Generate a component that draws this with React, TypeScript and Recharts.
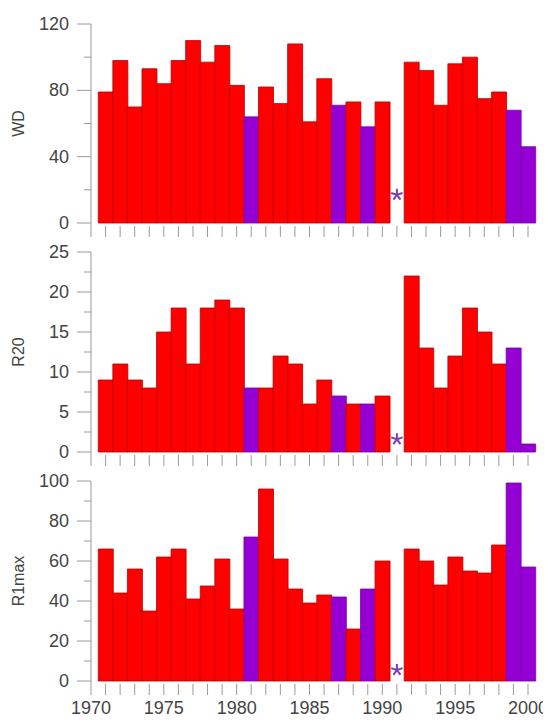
import { ComposedChart, Bar, Cell, Scatter, XAxis, YAxis } from "recharts";

const years = [
  1971, 1972, 1973, 1974, 1975, 1976, 1977, 1978, 1979, 1980, 1981, 1982, 1983,
  1984, 1985, 1986, 1987, 1988, 1989, 1990, 1991, 1992, 1993, 1994, 1995, 1996,
  1997, 1998, 1999, 2000,
];
const wd = [
  79, 98, 70, 93, 84, 98, 110, 97, 107, 83, 64, 82, 72, 108, 61, 87, 71, 73, 58,
  73, null, 97, 92, 71, 96, 100, 75, 79, 68, 46,
];
const r20 = [
  9, 11, 9, 8, 15, 18, 11, 18, 19, 18, 8, 8, 12, 11, 6, 9, 7, 6, 6, 7, null, 22,
  13, 8, 12, 18, 15, 11, 13, 1,
];
const r1max = [
  66, 44, 56, 35, 62, 66, 41, 47.5, 61, 36, 72, 96, 61, 46, 39, 43, 42, 26, 46,
  60, null, 66, 60, 48, 62, 55, 54, 68, 99, 57,
];
const purpleYears = [1981, 1987, 1989, 1999, 2000];
const missingYear = 1991;
const starValues = [17, 1.6, 5.5];

const xTicks = [
  1970, 1971, 1972, 1973, 1974, 1975, 1976, 1977, 1978, 1979, 1980, 1981, 1982,
  1983, 1984, 1985, 1986, 1987, 1988, 1989, 1990, 1991, 1992, 1993, 1994, 1995,
  1996, 1997, 1998, 1999, 2000,
];
const wdTicks = [0, 20, 40, 60, 80, 100, 120];
const r20Ticks = [0, 2.5, 5, 7.5, 10, 12.5, 15, 17.5, 20, 22.5, 25];
const r1maxTicks = [0, 10, 20, 30, 40, 50, 60, 70, 80, 90, 100];

const AXIS = "#9a9a9a";
const TEXT = "#444";
const FONT = "Liberation Sans, Arial, sans-serif";
const Y_AXIS_W = 83;
const CHART_W = 560;

function YearTick(props: any) {
  const { x, y, payload, labels } = props;
  const v = payload.value;
  return (
    <g>
      <line x1={x} x2={x} y1={v === 1970 ? y : y + 3} y2={y + 14} stroke={AXIS} />
      {labels && v % 5 === 0 && (
        <text
          x={x}
          y={y + 27}
          textAnchor="middle"
          dominantBaseline="central"
          fontSize={18}
          fontFamily={FONT}
          fill={TEXT}
        >
          {v}
        </text>
      )}
    </g>
  );
}

// y-axis tick: long tick + label for majors, short tick for minors
function ValueTick(props: any) {
  const { y, payload, major } = props;
  const x = Y_AXIS_W;
  const isMajor = payload.value % major === 0;
  return (
    <g>
      <line x1={x - (isMajor ? 14 : 7)} x2={x} y1={y} y2={y} stroke={AXIS} />
      {isMajor && (
        <text
          x={x - 22}
          y={y}
          textAnchor="end"
          dominantBaseline="central"
          fontSize={18}
          fontFamily={FONT}
          fill={TEXT}
        >
          {payload.value}
        </text>
      )}
    </g>
  );
}

function Asterisk(props: any) {
  const { cx, cy } = props;
  const r = 6;
  const arms = [0, 72, 144, 216, 288].map((a) => {
    const t = ((a - 90) * Math.PI) / 180;
    return (
      <line
        key={a}
        x1={cx}
        y1={cy}
        x2={cx + r * Math.cos(t)}
        y2={cy + r * Math.sin(t)}
        stroke="#7b3fb5"
        strokeWidth={2}
      />
    );
  });
  return <g>{arms}</g>;
}

type PanelProps = {
  title: string;
  values: (number | null)[];
  star: number;
  ticks: number[];
  major: number;
  height: number;
  top: number;
  axisHeight: number;
  yearLabels?: boolean;
};

function Panel({
  title,
  values,
  star,
  ticks,
  major,
  height,
  top,
  axisHeight,
  yearLabels,
}: PanelProps) {
  const data = years.map((year, i) => ({ year, value: values[i] }));
  return (
    <ComposedChart
      width={CHART_W}
      height={height}
      data={data}
      margin={{ top, right: CHART_W - 520, bottom: 0, left: 0 }}
      barCategoryGap={0}
      barGap={0}
    >
      <XAxis
        dataKey="year"
        type="number"
        domain={[1970, 2000]}
        ticks={xTicks}
        interval={0}
        axisLine={false}
        tickLine={false}
        tickSize={0}
        tickMargin={0}
        height={axisHeight}
        tick={<YearTick labels={yearLabels} />}
      />
      <YAxis
        type="number"
        domain={[0, ticks[ticks.length - 1]]}
        ticks={ticks}
        interval={0}
        width={Y_AXIS_W}
        axisLine={{ stroke: AXIS }}
        tickLine={false}
        tickSize={0}
        tickMargin={0}
        tick={<ValueTick major={major} />}
        label={{
          content: (p: any) => {
            const vb = p.viewBox || {};
            const cy = (vb.y || 0) + (vb.height || 0) / 2;
            return (
              <text
                x={10}
                y={cy}
                transform={`rotate(-90 10 ${cy})`}
                textAnchor="middle"
                dominantBaseline="central"
                fontSize={16}
                fontFamily={FONT}
                fill={TEXT}
              >
                {title}
              </text>
            );
          },
        }}
      />
      <Bar dataKey="value" isAnimationActive={false}>
        {data.map((d) => {
          const purple = purpleYears.includes(d.year);
          return (
            <Cell
              key={d.year}
              fill={purple ? "#9400d3" : "#ff0000"}
              stroke={purple ? "#7a00b0" : "#b80000"}
              strokeWidth={0.8}
            />
          );
        })}
      </Bar>
      <Scatter
        data={[{ year: missingYear, value: star }]}
        dataKey="value"
        isAnimationActive={false}
        shape={<Asterisk />}
      />
    </ComposedChart>
  );
}

export default function App() {
  return (
    <div style={{ width: CHART_W, background: "#fff" }}>
      <style>{"html,body{overflow:hidden}.recharts-wrapper,.recharts-surface{overflow:visible !important}"}</style>
      <Panel title="WD" values={wd} star={starValues[0]} ticks={wdTicks} major={40} height={230} top={16} axisHeight={15} />
      <Panel title="R20" values={r20} star={starValues[1]} ticks={r20Ticks} major={5} height={229} top={14} axisHeight={15} />
      <Panel title="R1max" values={r1max} star={starValues[2]} ticks={r1maxTicks} major={20} height={249} top={14} axisHeight={35} yearLabels />
    </div>
  );
}
